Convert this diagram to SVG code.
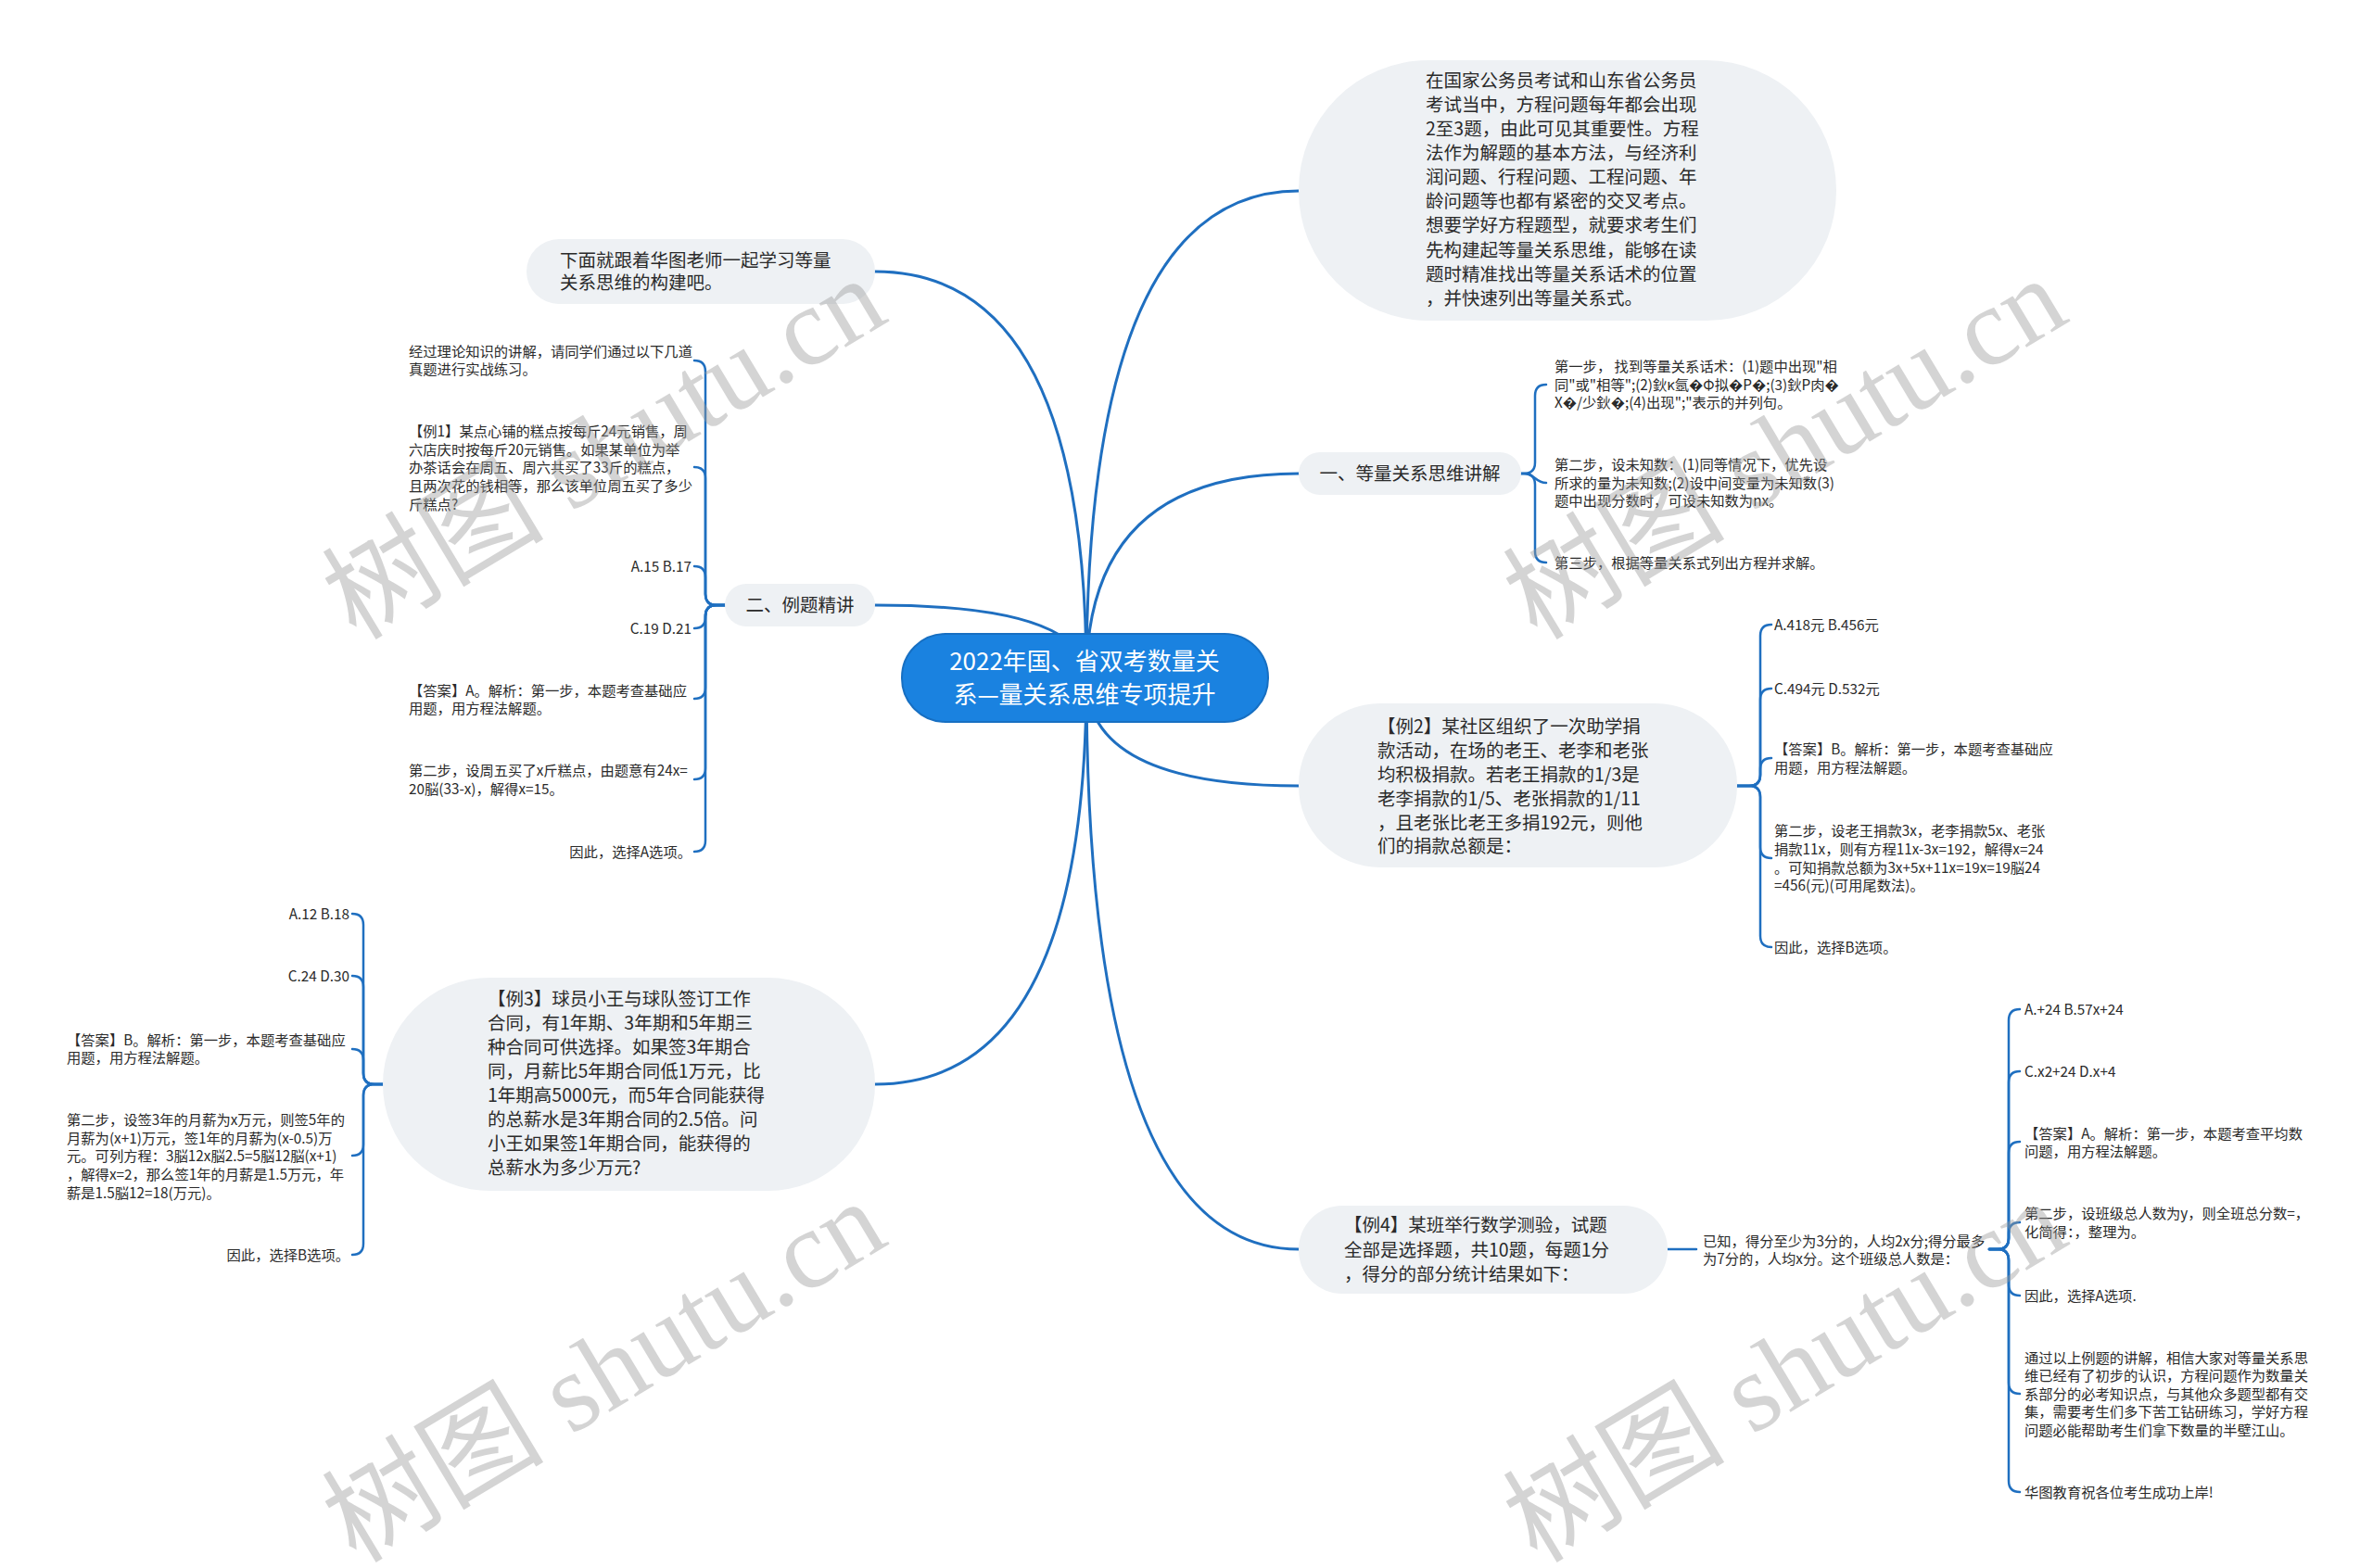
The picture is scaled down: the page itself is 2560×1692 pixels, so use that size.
<svg xmlns="http://www.w3.org/2000/svg" width="2560" height="1692" viewBox="0 0 2560 1692">
<style>
.cn{fill:none;stroke:#1f6fc0;stroke-width:3;stroke-linecap:round}
.br{fill:none;stroke:#1f6fc0;stroke-width:2.5;stroke-linecap:round}
.nd{fill:#eef1f4}
.t{font-family:"Noto Sans CJK SC","Noto Sans",sans-serif;fill:#2a2a2a}
.m{font-size:19.5px}
.s{font-size:15.3px}
.r{font-size:26px;fill:#ffffff}
.wm{font-family:"Liberation Serif","Noto Sans CJK SC",serif;font-size:120px;fill:#9a9a9a;opacity:.42}
</style>
<rect width="2560" height="1692" fill="#ffffff"/>
<g id="connectors">
<path class="cn" d="M1172 731 Q1172 206 1401 206"/>
<path class="cn" d="M1172 731 Q1172 511 1401 511"/>
<path class="cn" d="M1172 731 Q1172 293 944 293"/>
<path class="cn" d="M1172 731 Q1172 653 944 653"/>
<path class="cn" d="M1172 731 Q1172 848 1401 848"/>
<path class="cn" d="M1172 731 Q1172 1170 944 1170"/>
<path class="cn" d="M1172 731 Q1172 1348 1401 1348"/>
<path class="br" d="M1641 511 H1644 Q1656 511 1656 499 V427 Q1656 415 1668 415"/>
<path class="br" d="M1641 511 H1644 C1656 511 1656 521 1668 521"/>
<path class="br" d="M1641 511 H1644 Q1656 511 1656 523 V595 Q1656 607 1668 607"/>
<path class="br" d="M782 653 H773 Q761 653 761 641 V401 Q761 389 749 389"/>
<path class="br" d="M782 653 H773 Q761 653 761 641 V516 Q761 504 749 504"/>
<path class="br" d="M782 653 H773 Q761 653 761 641 V623 Q761 611 749 611"/>
<path class="br" d="M782 653 H773 Q761 653 761 665 V666 Q761 678 749 678"/>
<path class="br" d="M782 653 H773 Q761 653 761 665 V742 Q761 754 749 754"/>
<path class="br" d="M782 653 H773 Q761 653 761 665 V829 Q761 841 749 841"/>
<path class="br" d="M782 653 H773 Q761 653 761 665 V907 Q761 919 749 919"/>
<path class="br" d="M1874 848 H1887 Q1899 848 1899 836 V686 Q1899 674 1911 674"/>
<path class="br" d="M1874 848 H1887 Q1899 848 1899 836 V755 Q1899 743 1911 743"/>
<path class="br" d="M1874 848 H1887 Q1899 848 1899 836 V830 Q1899 818 1911 818"/>
<path class="br" d="M1874 848 H1887 Q1899 848 1899 860 V914 Q1899 926 1911 926"/>
<path class="br" d="M1874 848 H1887 Q1899 848 1899 860 V1010 Q1899 1022 1911 1022"/>
<path class="br" d="M413 1170 H404 Q392 1170 392 1158 V998 Q392 986 380 986"/>
<path class="br" d="M413 1170 H404 Q392 1170 392 1158 V1065 Q392 1053 380 1053"/>
<path class="br" d="M413 1170 H404 Q392 1170 392 1158 V1144 Q392 1132 380 1132"/>
<path class="br" d="M413 1170 H404 Q392 1170 392 1182 V1235 Q392 1247 380 1247"/>
<path class="br" d="M413 1170 H404 Q392 1170 392 1182 V1342 Q392 1354 380 1354"/>
<path class="br" d="M1799 1348 H1830"/>
<path class="br" d="M2146 1348 H2155 Q2167 1348 2167 1336 V1101 Q2167 1089 2179 1089"/>
<path class="br" d="M2146 1348 H2155 Q2167 1348 2167 1336 V1168 Q2167 1156 2179 1156"/>
<path class="br" d="M2146 1348 H2155 Q2167 1348 2167 1336 V1244 Q2167 1232 2179 1232"/>
<path class="br" d="M2146 1348 H2155 Q2167 1348 2167 1336 V1331 Q2167 1319 2179 1319"/>
<path class="br" d="M2146 1348 H2155 Q2167 1348 2167 1360 V1386 Q2167 1398 2179 1398"/>
<path class="br" d="M2146 1348 H2155 Q2167 1348 2167 1360 V1492 Q2167 1504 2179 1504"/>
<path class="br" d="M2146 1348 H2155 Q2167 1348 2167 1360 V1598 Q2167 1610 2179 1610"/>
</g>
<g id="root">
<rect x="973" y="684" width="395" height="95" rx="47" fill="#1a82e0" stroke="#176fc2" stroke-width="2"/>
<text class="t r" text-anchor="middle"><tspan x="1170" y="723">2022年国、省双考数量关</tspan><tspan x="1170" y="759">系—量关系思维专项提升</tspan></text>
</g>
<g id="intro">
<rect class="nd" x="1401" y="65" width="580" height="281" rx="140"/>
<text class="t m"><tspan x="1538" y="94">在国家公务员考试和山东省公务员</tspan><tspan x="1538" y="120">考试当中，方程问题每年都会出现</tspan><tspan x="1538" y="146">2至3题，由此可见其重要性。方程</tspan><tspan x="1538" y="172">法作为解题的基本方法，与经济利</tspan><tspan x="1538" y="198">润问题、行程问题、工程问题、年</tspan><tspan x="1538" y="224">龄问题等也都有紧密的交叉考点。</tspan><tspan x="1538" y="250">想要学好方程题型，就要求考生们</tspan><tspan x="1538" y="277">先构建起等量关系思维，能够在读</tspan><tspan x="1538" y="303">题时精准找出等量关系话术的位置</tspan><tspan x="1538" y="329">，并快速列出等量关系式。</tspan></text>
</g>
<g id="follow">
<rect class="nd" x="568" y="258" width="376" height="70" rx="35"/>
<text class="t m"><tspan x="604" y="288">下面就跟着华图老师一起学习等量</tspan><tspan x="604" y="312">关系思维的构建吧。</tspan></text>
</g>
<g id="part1">
<rect class="nd" x="1401" y="488" width="240" height="46" rx="23"/>
<text class="t m" x="1521" y="518" text-anchor="middle">一、等量关系思维讲解</text>
</g>
<g id="part1-children">
<text class="t s"><tspan x="1677" y="401">第一步， 找到等量关系话术：(1)题中出现"相</tspan><tspan x="1677" y="421">同"或"相等";(2)鈥κ氬�Φ拟�P�;(3)鈥P肉�</tspan><tspan x="1677" y="440">X�/少鈥�;(4)出现";"表示的并列句。</tspan></text>
<text class="t s"><tspan x="1677" y="507">第二步，设未知数：(1)同等情况下，优先设</tspan><tspan x="1677" y="527">所求的量为未知数;(2)设中间变量为未知数(3)</tspan><tspan x="1677" y="546">题中出现分数时，可设未知数为nx。</tspan></text>
<text class="t s" x="1677" y="613">第三步，根据等量关系式列出方程并求解。</text>
</g>
<g id="part2">
<rect class="nd" x="782" y="630" width="162" height="46" rx="23"/>
<text class="t m" x="863" y="660" text-anchor="middle">二、例题精讲</text>
</g>
<g id="part2-children">
<text class="t s"><tspan x="441" y="385">经过理论知识的讲解，请同学们通过以下几道</tspan><tspan x="441" y="404">真题进行实战练习。</tspan></text>
<text class="t s"><tspan x="441" y="471">【例1】某点心铺的糕点按每斤24元销售，周</tspan><tspan x="441" y="491">六店庆时按每斤20元销售。如果某单位为举</tspan><tspan x="441" y="510">办茶话会在周五、周六共买了33斤的糕点，</tspan><tspan x="441" y="530">且两次花的钱相等，那么该单位周五买了多少</tspan><tspan x="441" y="550">斤糕点?</tspan></text>
<text class="t s" x="746" y="617" text-anchor="end">A.15 B.17</text>
<text class="t s" x="746" y="684" text-anchor="end">C.19 D.21</text>
<text class="t s"><tspan x="441" y="751">【答案】A。解析：第一步，本题考查基础应</tspan><tspan x="441" y="770">用题，用方程法解题。</tspan></text>
<text class="t s"><tspan x="441" y="837">第二步，设周五买了x斤糕点，由题意有24x=</tspan><tspan x="441" y="857">20脳(33-x)，解得x=15。</tspan></text>
<text class="t s" x="746" y="925" text-anchor="end">因此，选择A选项。</text>
</g>
<g id="example2">
<rect class="nd" x="1401" y="759" width="473" height="177" rx="88"/>
<text class="t m"><tspan x="1486" y="791">【例2】某社区组织了一次助学捐</tspan><tspan x="1486" y="817">款活动，在场的老王、老李和老张</tspan><tspan x="1486" y="843">均积极捐款。若老王捐款的1/3是</tspan><tspan x="1486" y="869">老李捐款的1/5、老张捐款的1/11</tspan><tspan x="1486" y="895">，且老张比老王多捐192元，则他</tspan><tspan x="1486" y="920">们的捐款总额是：</tspan></text>
</g>
<g id="example2-children">
<text class="t s" x="1914" y="680">A.418元 B.456元</text>
<text class="t s" x="1914" y="749">C.494元 D.532元</text>
<text class="t s"><tspan x="1914" y="814">【答案】B。解析：第一步，本题考查基础应</tspan><tspan x="1914" y="834">用题，用方程法解题。</tspan></text>
<text class="t s"><tspan x="1914" y="902">第二步，设老王捐款3x，老李捐款5x、老张</tspan><tspan x="1914" y="922">捐款11x，则有方程11x-3x=192，解得x=24</tspan><tspan x="1914" y="942">。可知捐款总额为3x+5x+11x=19x=19脳24</tspan><tspan x="1914" y="961">=456(元)(可用尾数法)。</tspan></text>
<text class="t s" x="1914" y="1028">因此，选择B选项。</text>
</g>
<g id="example3">
<rect class="nd" x="413" y="1055" width="531" height="230" rx="115"/>
<text class="t m"><tspan x="526" y="1085">【例3】球员小王与球队签订工作</tspan><tspan x="526" y="1111">合同，有1年期、3年期和5年期三</tspan><tspan x="526" y="1137">种合同可供选择。如果签3年期合</tspan><tspan x="526" y="1163">同，月薪比5年期合同低1万元，比</tspan><tspan x="526" y="1189">1年期高5000元，而5年合同能获得</tspan><tspan x="526" y="1215">的总薪水是3年期合同的2.5倍。问</tspan><tspan x="526" y="1241">小王如果签1年期合同，能获得的</tspan><tspan x="526" y="1267">总薪水为多少万元?</tspan></text>
</g>
<g id="example3-children">
<text class="t s" x="377" y="992" text-anchor="end">A.12 B.18</text>
<text class="t s" x="377" y="1059" text-anchor="end">C.24 D.30</text>
<text class="t s"><tspan x="72" y="1128">【答案】B。解析：第一步，本题考查基础应</tspan><tspan x="72" y="1147">用题，用方程法解题。</tspan></text>
<text class="t s"><tspan x="72" y="1214">第二步，设签3年的月薪为x万元，则签5年的</tspan><tspan x="72" y="1234">月薪为(x+1)万元，签1年的月薪为(x-0.5)万</tspan><tspan x="72" y="1253">元。可列方程：3脳12x脳2.5=5脳12脳(x+1)</tspan><tspan x="72" y="1273">，解得x=2，那么签1年的月薪是1.5万元，年</tspan><tspan x="72" y="1293">薪是1.5脳12=18(万元)。</tspan></text>
<text class="t s" x="377" y="1360" text-anchor="end">因此，选择B选项。</text>
</g>
<g id="example4">
<rect class="nd" x="1401" y="1301" width="398" height="95" rx="47"/>
<text class="t m"><tspan x="1450" y="1329">【例4】某班举行数学测验，试题</tspan><tspan x="1450" y="1356">全部是选择题，共10题，每题1分</tspan><tspan x="1450" y="1382">，得分的部分统计结果如下：</tspan></text>
</g>
<g id="example4-known">
<text class="t s"><tspan x="1837" y="1345">已知，得分至少为3分的，人均2x分;得分最多</tspan><tspan x="1837" y="1364">为7分的，人均x分。这个班级总人数是：</tspan></text>
</g>
<g id="example4-children">
<text class="t s" x="2184" y="1095">A.+24 B.57x+24</text>
<text class="t s" x="2184" y="1162">C.x2+24 D.x+4</text>
<text class="t s"><tspan x="2184" y="1229">【答案】A。解析：第一步，本题考查平均数</tspan><tspan x="2184" y="1248">问题，用方程法解题。</tspan></text>
<text class="t s"><tspan x="2184" y="1315">第二步，设班级总人数为y，则全班总分数=，</tspan><tspan x="2184" y="1335">化简得：，整理为。</tspan></text>
<text class="t s" x="2184" y="1404">因此，选择A选项.</text>
<text class="t s"><tspan x="2184" y="1471">通过以上例题的讲解，相信大家对等量关系思</tspan><tspan x="2184" y="1490">维已经有了初步的认识，方程问题作为数量关</tspan><tspan x="2184" y="1510">系部分的必考知识点，与其他众多题型都有交</tspan><tspan x="2184" y="1529">集，需要考生们多下苦工钻研练习，学好方程</tspan><tspan x="2184" y="1549">问题必能帮助考生们拿下数量的半壁江山。</tspan></text>
<text class="t s" x="2184" y="1616">华图教育祝各位考生成功上岸!</text>
</g>
<g id="watermarks">
<text class="wm" transform="translate(384 692) rotate(-31)">树图 shutu.cn</text>
<text class="wm" transform="translate(1658 692) rotate(-31)">树图 shutu.cn</text>
<text class="wm" transform="translate(384 1688) rotate(-31)">树图 shutu.cn</text>
<text class="wm" transform="translate(1658 1688) rotate(-31)">树图 shutu.cn</text>
</g>
</svg>
